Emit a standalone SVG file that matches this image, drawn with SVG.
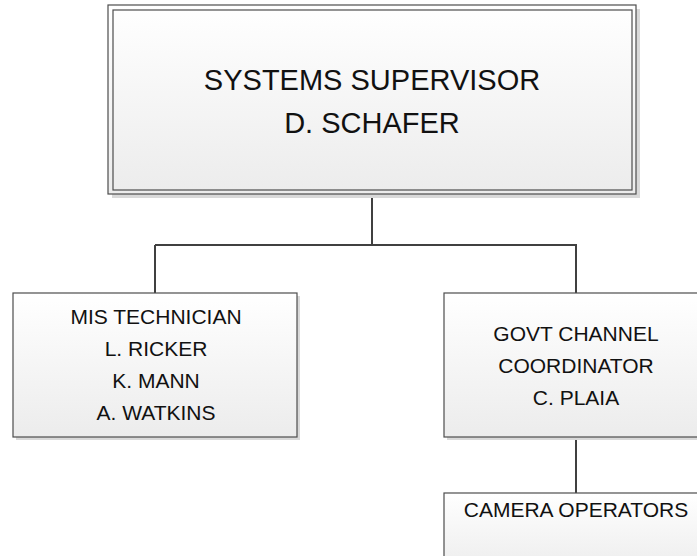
<svg xmlns="http://www.w3.org/2000/svg" width="697" height="556" viewBox="0 0 697 556">
  <style>
    .box { fill: url(#boxFill); stroke: #4d4d4d; stroke-width: 1.2; }
    .shadow { fill: #d9d9d9; }
    .label { font-family: "Liberation Sans", Arial, sans-serif; fill: #111; text-anchor: middle; }
    .big { font-size: 29px; }
    .small { font-size: 21px; }
    .wire { fill: none; stroke: #404040; stroke-width: 2; }
  </style>
  <defs>
    <linearGradient id="boxFill" x1="0" y1="0" x2="0" y2="1">
      <stop offset="0" stop-color="#ffffff"/>
      <stop offset="1" stop-color="#ececec"/>
    </linearGradient>
  </defs>
  <rect width="697" height="556" fill="#ffffff"/>

  <g id="connectors">
    <path class="wire" d="M372 194 V245 M155 245 H577 M155 245 V293 M576 245 V293 M576 437 V493"/>
  </g>

  <g id="supervisor">
    <rect class="shadow" x="112" y="9" width="528" height="189"/>
    <rect class="box" x="108" y="5" width="528" height="189"/>
    <rect x="113" y="10" width="519" height="180" fill="none" stroke="#4d4d4d" stroke-width="1.2"/>
    <text class="label big" x="372" y="90">SYSTEMS SUPERVISOR</text>
    <text class="label big" x="372" y="133">D. SCHAFER</text>
  </g>

  <g id="mis-technician">
    <rect class="shadow" x="16" y="296" width="284" height="144"/>
    <rect class="box" x="13" y="293" width="284" height="144"/>
    <text class="label small" x="156" y="324">MIS TECHNICIAN</text>
    <text class="label small" x="156" y="356">L. RICKER</text>
    <text class="label small" x="156" y="388">K. MANN</text>
    <text class="label small" x="156" y="420">A. WATKINS</text>
  </g>

  <g id="govt-channel">
    <rect class="shadow" x="447" y="296" width="264" height="144"/>
    <rect class="box" x="444" y="293" width="264" height="144"/>
    <text class="label small" x="576" y="341">GOVT CHANNEL</text>
    <text class="label small" x="576" y="373">COORDINATOR</text>
    <text class="label small" x="576" y="405">C. PLAIA</text>
  </g>

  <g id="camera-operators">
    <rect class="box" x="444" y="493" width="264" height="80"/>
    <text class="label small" x="576" y="517">CAMERA OPERATORS</text>
  </g>
</svg>
